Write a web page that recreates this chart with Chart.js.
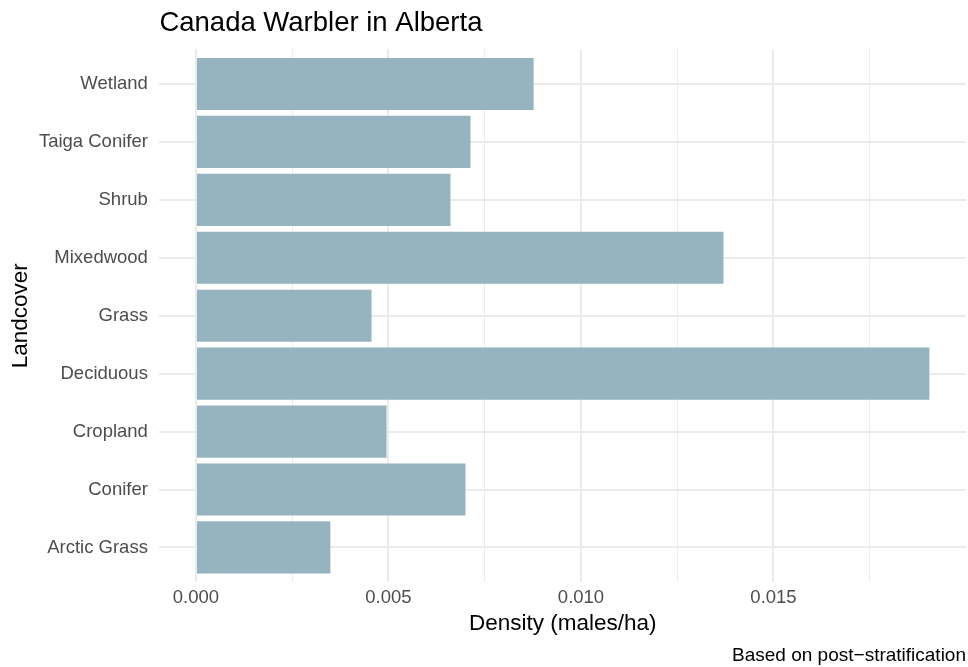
<!DOCTYPE html>
<html><head><meta charset="utf-8">
<script src="https://cdn.jsdelivr.net/npm/chart.js@4/dist/chart.umd.min.js"></script>
<style>html,body{margin:0;padding:0;background:#fff}#wrap{width:968px;height:667px}canvas{display:block}</style>
</head><body><div id="wrap"><canvas id="c" width="968" height="667"></canvas></div>
<script>
const categories = ["Arctic Grass","Conifer","Cropland","Deciduous","Grass","Mixedwood","Shrub","Taiga Conifer","Wetland"];
const density = [0.00349,0.00700,0.00495,0.01905,0.00456,0.01370,0.00661,0.00713,0.00877];
const majorTicks = [0, 0.005, 0.010, 0.015];
const majorLabels = ["0.000","0.005","0.010","0.015"];
const minorTicks = [0.0025, 0.0075, 0.0125, 0.0175];
const titleText = "Canada Warbler in Alberta";
const xTitle = "Density (males/ha)";
const yTitle = "Landcover";
const captionText = "Based on post\u2212stratification";

Chart.defaults.font.family = "'Liberation Sans', Arial, sans-serif";
const FONT = "'Liberation Sans', Arial, sans-serif";
const isMajor = v => majorTicks.some(m => Math.abs(m - v) < 1e-9);

new Chart(document.getElementById('c'), {
  type: 'bar',
  data: {
    labels: categories,
    datasets: [{
      data: density,
      backgroundColor: '#96B4C0',
      borderWidth: 0,
      categoryPercentage: 0.9,
      barPercentage: 1.0
    }]
  },
  options: {
    indexAxis: 'y',
    responsive: false,
    animation: false,
    devicePixelRatio: 1,
    layout: { padding: { left: 0, right: 2, top: 0, bottom: 0 } },
    plugins: {
      legend: { display: false },
      tooltip: { enabled: false },
      title: {
        display: true, text: titleText, align: 'start', fullSize: false,
        color: '#000', font: { family: FONT, size: 27.5, weight: 'normal', lineHeight: 1.2 },
        padding: { top: 7.3, bottom: 8.9 }
      },
      subtitle: {
        display: true, text: captionText, position: 'bottom', align: 'end', fullSize: false,
        color: '#000', font: { family: FONT, size: 19, weight: 'normal', lineHeight: 1.2 },
        padding: { top: 7, bottom: 0 }
      }
    },
    scales: {
      x: {
        type: 'linear',
        min: -0.00095,
        max: 0.0200,
        afterBuildTicks: s => {
          s.ticks = majorTicks.concat(minorTicks).sort((a, b) => a - b).map(v => ({ value: v }));
        },
        afterFit: s => { s.height = 55; },
        border: { display: false },
        grid: {
          color: '#EBEBEB',
          lineWidth: c => (c.tick && isMajor(c.tick.value)) ? 2 : 1,
          drawTicks: false, tickLength: 0
        },
        ticks: {
          autoSkip: false, maxRotation: 0, padding: 5,
          color: '#4D4D4D', font: { family: FONT, size: 18.5 },
          callback: v => { const i = majorTicks.findIndex(m => Math.abs(m - v) < 1e-9); return i >= 0 ? majorLabels[i] : ''; }
        },
        title: {
          display: true, text: xTitle, color: '#000',
          font: { family: FONT, size: 22.5, lineHeight: 1.2 },
          padding: { top: 0, bottom: 0 }
        }
      },
      y: {
        type: 'category',
        reverse: true,
        afterBuildTicks: s => { s._startValue = -0.6; s._valueRange = s.getLabels().length + 0.2; },
        afterFit: s => { s.width = 159.4; },
        border: { display: false },
        grid: { color: '#EBEBEB', lineWidth: 2, offset: false, drawTicks: false, tickLength: 0 },
        ticks: { padding: 11.5, color: '#4D4D4D', font: { family: FONT, size: 18.5 } },
        title: {
          display: true, text: yTitle, color: '#000',
          font: { family: FONT, size: 22.5, lineHeight: 1.2 },
          padding: { top: 7.7, bottom: 0 }
        }
      }
    }
  }
});
</script>
</body></html>
